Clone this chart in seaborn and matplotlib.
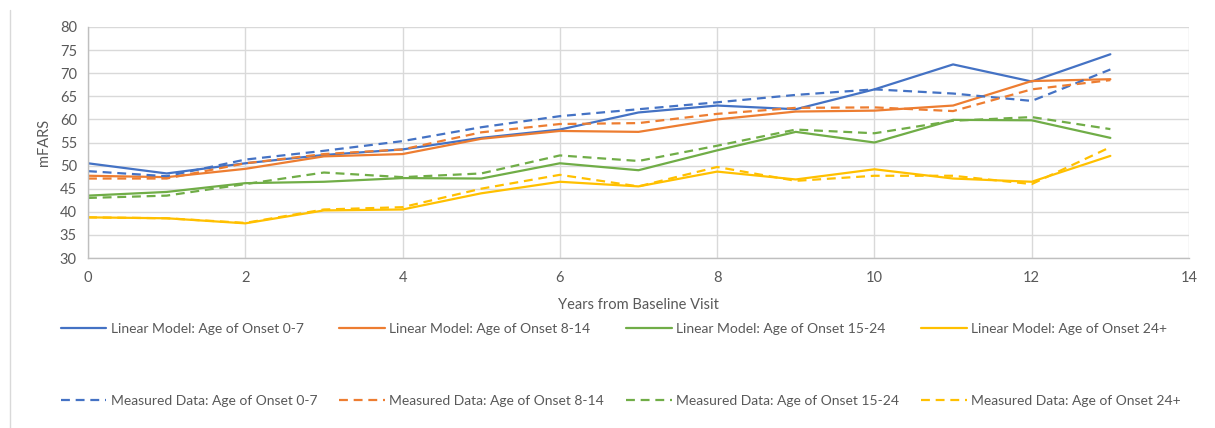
import matplotlib
matplotlib.use("Agg")
import matplotlib.pyplot as plt
import seaborn as sns
import pandas as pd
from matplotlib.lines import Line2D

years = list(range(14))
groups = ["0-7", "8-14", "15-24", "24+"]
colors = ["#4472C4", "#ED7D31", "#70AD47", "#FFC000"]

linear_0_7 = [50.5, 48.3, 50.5, 52.3, 53.5, 56.0, 57.8, 61.5, 63.0, 62.2, 66.5, 71.9, 68.2, 74.1]
linear_8_14 = [47.8, 47.5, 49.3, 52.0, 52.5, 55.8, 57.5, 57.3, 60.0, 61.7, 61.9, 63.0, 68.3, 68.7]
linear_15_24 = [43.5, 44.3, 46.2, 46.5, 47.3, 47.2, 50.5, 49.0, 53.3, 57.3, 55.0, 59.9, 59.8, 56.0]
linear_24p = [38.8, 38.6, 37.5, 40.3, 40.5, 44.0, 46.5, 45.5, 48.7, 47.0, 49.2, 47.2, 46.5, 52.1]

measured_0_7 = [48.8, 47.7, 51.3, 53.2, 55.3, 58.3, 60.7, 62.2, 63.7, 65.3, 66.5, 65.6, 64.0, 70.8]
measured_8_14 = [47.2, 47.2, 50.5, 52.5, 53.5, 57.2, 59.0, 59.2, 61.2, 62.5, 62.6, 61.8, 66.5, 68.5]
measured_15_24 = [43.0, 43.5, 46.0, 48.5, 47.5, 48.3, 52.2, 51.0, 54.3, 57.8, 57.0, 59.7, 60.5, 57.9]
measured_24p = [38.8, 38.6, 37.6, 40.5, 41.0, 45.0, 48.0, 45.5, 49.7, 46.7, 47.8, 47.8, 46.0, 54.0]

linear = [linear_0_7, linear_8_14, linear_15_24, linear_24p]
measured = [measured_0_7, measured_8_14, measured_15_24, measured_24p]

sns.set_theme(style="white")
plt.rcParams["font.family"] = ["Lato", "DejaVu Sans"]

fig = plt.figure(figsize=(12.15, 4.28), dpi=100)
ax = fig.add_axes([88 / 1215, 1 - 258 / 428, (1189 - 88) / 1215, (258 - 27) / 428])

DASH = (0, (4, 2.6))
for g, c, vals in zip(groups, colors, linear):
    df = pd.DataFrame({"year": years, "mFARS": vals})
    sns.lineplot(data=df, x="year", y="mFARS", ax=ax, color=c, linewidth=1.6, legend=False)
for g, c, vals in zip(groups, colors, measured):
    df = pd.DataFrame({"year": years, "mFARS": vals})
    sns.lineplot(data=df, x="year", y="mFARS", ax=ax, color=c, linewidth=1.6,
                 linestyle=DASH, legend=False)

ax.set_xlim(0, 14)
ax.set_ylim(30, 80)
ax.set_xticks(range(0, 15, 2))
ax.set_yticks(range(30, 81, 5))
ax.grid(True, color="#D9D9D9", linewidth=1.0)
ax.set_axisbelow(True)
for s in ["top", "right"]:
    ax.spines[s].set_visible(False)
for s in ["left", "bottom"]:
    ax.spines[s].set_color("#BFBFBF")
    ax.spines[s].set_linewidth(1.0)
ax.tick_params(axis="both", colors="#595959", labelsize=10.5, length=0)
ax.tick_params(axis="x", pad=9)
ax.tick_params(axis="y", pad=8)
ax.set_xlabel("Years from Baseline Visit", fontsize=10.5, color="#595959", labelpad=10)
ax.set_ylabel("mFARS", fontsize=10.5, color="#595959", labelpad=6)

leg_handles = []
leg_labels = []
for g, c in zip(groups, colors):
    leg_handles.append(Line2D([], [], color=c, linewidth=1.6))
    leg_labels.append(f"Linear Model: Age of Onset {g}")
    leg_handles.append(Line2D([], [], color=c, linewidth=1.6, linestyle=DASH))
    leg_labels.append(f"Measured Data: Age of Onset {g}")

fig.legend(leg_handles, leg_labels, ncol=4, loc="center left",
           bbox_to_anchor=(55 / 1215, 1 - 365 / 428), frameon=False,
           fontsize=10, labelcolor="#595959", handlelength=3.3,
           handletextpad=0.3, columnspacing=1.6, labelspacing=4.3,
           borderaxespad=0)

fig.add_artist(Line2D([10 / 1215, 10 / 1215], [0, 1 - 10 / 428],
                      color="#D9D9D9", linewidth=1.0, transform=fig.transFigure))

fig.savefig("out.png", dpi=100)
